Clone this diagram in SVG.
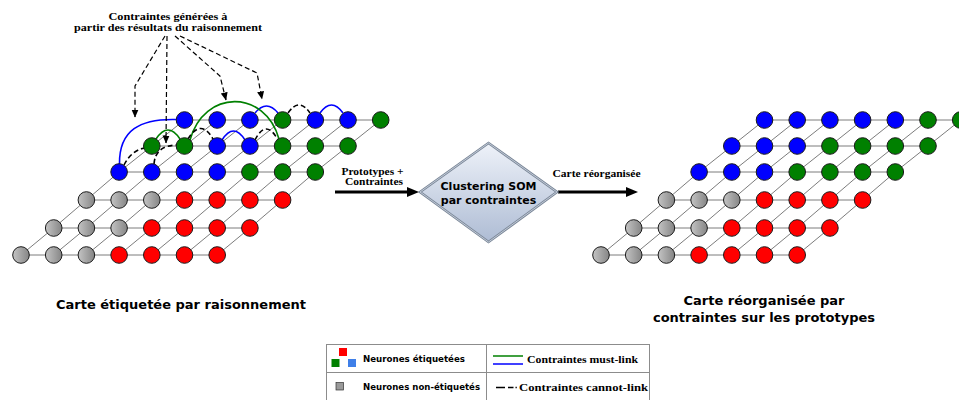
<svg xmlns="http://www.w3.org/2000/svg" width="959" height="400" viewBox="0 0 959 400">
<style>
.n{stroke:#1a1a1a;stroke-width:1}
.gy{fill:url(#gg)}
.rd{fill:#ff0000}
.bl{fill:#0000ff}
.gn{fill:#008000}
.gl{fill:none;stroke:#5a5a5a;stroke-width:0.8}
.ml-b{fill:none;stroke:#0000ff;stroke-width:1.6}
.ml-g{fill:none;stroke:#008000;stroke-width:1.6}
.cl{fill:none;stroke:#000;stroke-width:1.6;stroke-dasharray:5,3}
.ann{fill:none;stroke:#000;stroke-width:1.2;stroke-dasharray:5,3;marker-end:url(#ah)}
.thick{fill:none;stroke:#000;stroke-width:3.2;marker-end:url(#bh)}
.serif{font-family:"Liberation Serif","Times New Roman",serif;font-weight:bold;fill:#000}
.sans{font-family:"DejaVu Sans","Liberation Sans",sans-serif;font-weight:bold;fill:#000}
.cell{fill:none;stroke:#8c8c8c;stroke-width:1}
</style>
<defs>
<linearGradient id="gg" x1="0" y1="0" x2="1" y2="0">
<stop offset="0" stop-color="#c4c4c4"/>
<stop offset="1" stop-color="#858585"/>
</linearGradient>
<linearGradient id="dg" x1="0" y1="0" x2="0" y2="1">
<stop offset="0" stop-color="#eef2f9"/>
<stop offset="1" stop-color="#aebcd4"/>
</linearGradient>
<marker id="ah" markerUnits="userSpaceOnUse" markerWidth="8" markerHeight="8" refX="7.5" refY="3.5" orient="auto">
<path d="M0,0L8,3.5L0,7z" fill="#000"/>
</marker>
<marker id="bh" markerUnits="userSpaceOnUse" markerWidth="13" markerHeight="11" refX="1" refY="5" orient="auto">
<path d="M0,0L12,5L0,10z" fill="#000"/>
</marker>
<g id="grid">
<path class="gl" d="M21,255H217.2M53.7,228H249.9M86.4,200H282.6M119.1,172H315.3M151.8,146H348M184.5,120H380.7"/>
<path class="gl" d="M21,255L53.7,228L86.4,200L119.1,172L151.8,146L184.5,120M53.7,255L86.4,228L119.1,200L151.8,172L184.5,146L217.2,120M86.4,255L119.1,228L151.8,200L184.5,172L217.2,146L249.9,120M119.1,255L151.8,228L184.5,200L217.2,172L249.9,146L282.6,120M151.8,255L184.5,228L217.2,200L249.9,172L282.6,146L315.3,120M184.5,255L217.2,228L249.9,200L282.6,172L315.3,146L348,120M217.2,255L249.9,228L282.6,200L315.3,172L348,146L380.7,120"/>
</g>
</defs>
<rect width="959" height="400" fill="#fff"/>

<g id="connectors">
<use href="#grid"/>
<use href="#grid" x="580"/>
<path class="ml-b" d="M119.5,164C119,130 140,118.5 176.5,119.5"/>
<path class="ml-b" d="M222,140Q233.5,122 245,140"/>
<path class="ml-b" d="M255,113Q266.5,99 278,113"/>
<path class="ml-b" d="M320,113Q331.5,97 343,113"/>
<path class="ml-g" d="M156,139Q168,121 180,139"/>
<path class="ml-g" d="M190,140C204,89 265,89 279,139"/>
<path class="cl" d="M124,165Q131,151 144,148"/>
<path class="cl" d="M154,164C155,151 163,145.5 177,145"/>
<path class="cl" d="M188,139Q201,118 213,139"/>
<path class="cl" d="M255,140Q266,118 278,140"/>
<path class="cl" d="M288,113Q299,97 310,113"/>
<path class="ann" d="M165,36L135,86L135,117"/>
<path class="ann" d="M167,36L166,143"/>
<path class="ann" d="M175,36L220,76L226,100"/>
<path class="ann" d="M180,36L257,73L262,99"/>
<path class="thick" d="M335,192H408"/>
<path class="thick" d="M558,192H627"/>
</g>

<g id="left-map">
<g id="L00"><circle class="n gy" cx="21" cy="255" r="8.3"/></g>
<g id="L01"><circle class="n gy" cx="53.7" cy="255" r="8.3"/></g>
<g id="L02"><circle class="n gy" cx="86.4" cy="255" r="8.3"/></g>
<g id="L03"><circle class="n rd" cx="119.1" cy="255" r="8.3"/></g>
<g id="L04"><circle class="n rd" cx="151.8" cy="255" r="8.3"/></g>
<g id="L05"><circle class="n rd" cx="184.5" cy="255" r="8.3"/></g>
<g id="L06"><circle class="n rd" cx="217.2" cy="255" r="8.3"/></g>
<g id="L10"><circle class="n gy" cx="53.7" cy="228" r="8.3"/></g>
<g id="L11"><circle class="n gy" cx="86.4" cy="228" r="8.3"/></g>
<g id="L12"><circle class="n gy" cx="119.1" cy="228" r="8.3"/></g>
<g id="L13"><circle class="n rd" cx="151.8" cy="228" r="8.3"/></g>
<g id="L14"><circle class="n rd" cx="184.5" cy="228" r="8.3"/></g>
<g id="L15"><circle class="n rd" cx="217.2" cy="228" r="8.3"/></g>
<g id="L16"><circle class="n rd" cx="249.9" cy="228" r="8.3"/></g>
<g id="L20"><circle class="n gy" cx="86.4" cy="200" r="8.3"/></g>
<g id="L21"><circle class="n gy" cx="119.1" cy="200" r="8.3"/></g>
<g id="L22"><circle class="n gy" cx="151.8" cy="200" r="8.3"/></g>
<g id="L23"><circle class="n rd" cx="184.5" cy="200" r="8.3"/></g>
<g id="L24"><circle class="n rd" cx="217.2" cy="200" r="8.3"/></g>
<g id="L25"><circle class="n rd" cx="249.9" cy="200" r="8.3"/></g>
<g id="L26"><circle class="n rd" cx="282.6" cy="200" r="8.3"/></g>
<g id="L30"><circle class="n bl" cx="119.1" cy="172" r="8.3"/></g>
<g id="L31"><circle class="n bl" cx="151.8" cy="172" r="8.3"/></g>
<g id="L32"><circle class="n bl" cx="184.5" cy="172" r="8.3"/></g>
<g id="L33"><circle class="n bl" cx="217.2" cy="172" r="8.3"/></g>
<g id="L34"><circle class="n gn" cx="249.9" cy="172" r="8.3"/></g>
<g id="L35"><circle class="n gn" cx="282.6" cy="172" r="8.3"/></g>
<g id="L36"><circle class="n gn" cx="315.3" cy="172" r="8.3"/></g>
<g id="L40"><circle class="n gn" cx="151.8" cy="146" r="8.3"/></g>
<g id="L41"><circle class="n gn" cx="184.5" cy="146" r="8.3"/></g>
<g id="L42"><circle class="n bl" cx="217.2" cy="146" r="8.3"/></g>
<g id="L43"><circle class="n bl" cx="249.9" cy="146" r="8.3"/></g>
<g id="L44"><circle class="n gn" cx="282.6" cy="146" r="8.3"/></g>
<g id="L45"><circle class="n gn" cx="315.3" cy="146" r="8.3"/></g>
<g id="L46"><circle class="n gn" cx="348" cy="146" r="8.3"/></g>
<g id="L50"><circle class="n bl" cx="184.5" cy="120" r="8.3"/></g>
<g id="L51"><circle class="n bl" cx="217.2" cy="120" r="8.3"/></g>
<g id="L52"><circle class="n bl" cx="249.9" cy="120" r="8.3"/></g>
<g id="L53"><circle class="n gn" cx="282.6" cy="120" r="8.3"/></g>
<g id="L54"><circle class="n bl" cx="315.3" cy="120" r="8.3"/></g>
<g id="L55"><circle class="n bl" cx="348" cy="120" r="8.3"/></g>
<g id="L56"><circle class="n gn" cx="380.7" cy="120" r="8.3"/></g>
</g>

<g id="right-map" transform="translate(580,0)">
<g id="R00"><circle class="n gy" cx="21" cy="255" r="8.3"/></g>
<g id="R01"><circle class="n gy" cx="53.7" cy="255" r="8.3"/></g>
<g id="R02"><circle class="n gy" cx="86.4" cy="255" r="8.3"/></g>
<g id="R03"><circle class="n rd" cx="119.1" cy="255" r="8.3"/></g>
<g id="R04"><circle class="n rd" cx="151.8" cy="255" r="8.3"/></g>
<g id="R05"><circle class="n rd" cx="184.5" cy="255" r="8.3"/></g>
<g id="R06"><circle class="n rd" cx="217.2" cy="255" r="8.3"/></g>
<g id="R10"><circle class="n gy" cx="53.7" cy="228" r="8.3"/></g>
<g id="R11"><circle class="n gy" cx="86.4" cy="228" r="8.3"/></g>
<g id="R12"><circle class="n gy" cx="119.1" cy="228" r="8.3"/></g>
<g id="R13"><circle class="n rd" cx="151.8" cy="228" r="8.3"/></g>
<g id="R14"><circle class="n rd" cx="184.5" cy="228" r="8.3"/></g>
<g id="R15"><circle class="n rd" cx="217.2" cy="228" r="8.3"/></g>
<g id="R16"><circle class="n rd" cx="249.9" cy="228" r="8.3"/></g>
<g id="R20"><circle class="n gy" cx="86.4" cy="200" r="8.3"/></g>
<g id="R21"><circle class="n gy" cx="119.1" cy="200" r="8.3"/></g>
<g id="R22"><circle class="n gy" cx="151.8" cy="200" r="8.3"/></g>
<g id="R23"><circle class="n rd" cx="184.5" cy="200" r="8.3"/></g>
<g id="R24"><circle class="n rd" cx="217.2" cy="200" r="8.3"/></g>
<g id="R25"><circle class="n rd" cx="249.9" cy="200" r="8.3"/></g>
<g id="R26"><circle class="n rd" cx="282.6" cy="200" r="8.3"/></g>
<g id="R30"><circle class="n bl" cx="119.1" cy="172" r="8.3"/></g>
<g id="R31"><circle class="n bl" cx="151.8" cy="172" r="8.3"/></g>
<g id="R32"><circle class="n bl" cx="184.5" cy="172" r="8.3"/></g>
<g id="R33"><circle class="n gn" cx="217.2" cy="172" r="8.3"/></g>
<g id="R34"><circle class="n gn" cx="249.9" cy="172" r="8.3"/></g>
<g id="R35"><circle class="n gn" cx="282.6" cy="172" r="8.3"/></g>
<g id="R36"><circle class="n gn" cx="315.3" cy="172" r="8.3"/></g>
<g id="R40"><circle class="n bl" cx="151.8" cy="146" r="8.3"/></g>
<g id="R41"><circle class="n bl" cx="184.5" cy="146" r="8.3"/></g>
<g id="R42"><circle class="n bl" cx="217.2" cy="146" r="8.3"/></g>
<g id="R43"><circle class="n gn" cx="249.9" cy="146" r="8.3"/></g>
<g id="R44"><circle class="n gn" cx="282.6" cy="146" r="8.3"/></g>
<g id="R45"><circle class="n gn" cx="315.3" cy="146" r="8.3"/></g>
<g id="R46"><circle class="n gn" cx="348" cy="146" r="8.3"/></g>
<g id="R50"><circle class="n bl" cx="184.5" cy="120" r="8.3"/></g>
<g id="R51"><circle class="n bl" cx="217.2" cy="120" r="8.3"/></g>
<g id="R52"><circle class="n bl" cx="249.9" cy="120" r="8.3"/></g>
<g id="R53"><circle class="n bl" cx="282.6" cy="120" r="8.3"/></g>
<g id="R54"><circle class="n bl" cx="315.3" cy="120" r="8.3"/></g>
<g id="R55"><circle class="n gn" cx="348" cy="120" r="8.3"/></g>
<g id="R56"><circle class="n gn" cx="380.7" cy="120" r="8.3"/></g>
</g>

<g id="annotation">
<text class="serif" x="168" y="20" font-size="10.5" text-anchor="middle" textLength="119" lengthAdjust="spacingAndGlyphs">Contraintes générées à</text>
<text class="serif" x="168" y="30.5" font-size="10.5" text-anchor="middle" textLength="188" lengthAdjust="spacingAndGlyphs">partir des résultats du raisonnement</text>
</g>

<g id="label-in">
<text class="serif" x="372.5" y="175" font-size="10" text-anchor="middle" textLength="62" lengthAdjust="spacingAndGlyphs">Prototypes +</text>
<text class="serif" x="374" y="185" font-size="10" text-anchor="middle" textLength="58" lengthAdjust="spacingAndGlyphs">Contraintes</text>
</g>

<g id="som">
<polygon points="420,192 488.5,143 557,192 488.5,242" fill="url(#dg)" stroke="#7c8899" stroke-width="2.6"/>
<polygon points="420,192 488.5,143 557,192 488.5,242" fill="none" stroke="#d2dae6" stroke-width="0.8"/>
<text class="sans" x="488.5" y="190" font-size="11" text-anchor="middle" fill="#1e1e1e">Clustering SOM</text>
<text class="sans" x="488.5" y="204" font-size="11" text-anchor="middle" fill="#1e1e1e">par contraintes</text>
</g>

<g id="label-out">
<text class="serif" x="596.5" y="176.5" font-size="10.5" text-anchor="middle" textLength="88" lengthAdjust="spacingAndGlyphs">Carte réorganisée</text>
</g>

<g id="caption-left">
<text class="sans" x="181" y="309" font-size="13" text-anchor="middle">Carte étiquetée par raisonnement</text>
</g>
<g id="caption-right">
<text class="sans" x="764" y="305" font-size="13" text-anchor="middle">Carte réorganisée par</text>
<text class="sans" x="764" y="322" font-size="13" text-anchor="middle">contraintes sur les prototypes</text>
</g>

<g id="legend">
<rect class="cell" x="326.5" y="344.5" width="323" height="70"/>
<line class="cell" x1="486.5" y1="344.5" x2="486.5" y2="414"/>
<line class="cell" x1="326.5" y1="372.5" x2="649.5" y2="372.5"/>
<rect x="339" y="348" width="8" height="8" fill="#ff0000"/>
<rect x="331.5" y="359" width="8" height="8" fill="#008000"/>
<rect x="348" y="359" width="8" height="8" fill="#3f7fe8"/>
<rect x="336" y="382.5" width="7.5" height="7.5" fill="#9a9a9a" stroke="#333" stroke-width="0.7"/>
<text class="sans" x="363" y="362" font-size="8.7" textLength="102" lengthAdjust="spacingAndGlyphs">Neurones étiquetées</text>
<text class="sans" x="363" y="389.5" font-size="8.7" textLength="117" lengthAdjust="spacingAndGlyphs">Neurones non-étiquetés</text>
<line x1="493" y1="356" x2="523" y2="356" stroke="#008000" stroke-width="1.5"/>
<line x1="493" y1="364" x2="523" y2="364" stroke="#0000ff" stroke-width="1.5"/>
<path d="M496,387.5H505M508,387.5H513.5M515.5,387.5H516.8" stroke="#000" stroke-width="1.5" fill="none"/>
<text class="serif" x="527" y="362.5" font-size="10.5" textLength="111" lengthAdjust="spacingAndGlyphs">Contraintes must-link</text>
<text class="serif" x="519" y="390.5" font-size="10.5" textLength="129" lengthAdjust="spacingAndGlyphs">Contraintes cannot-link</text>
</g>
</svg>
